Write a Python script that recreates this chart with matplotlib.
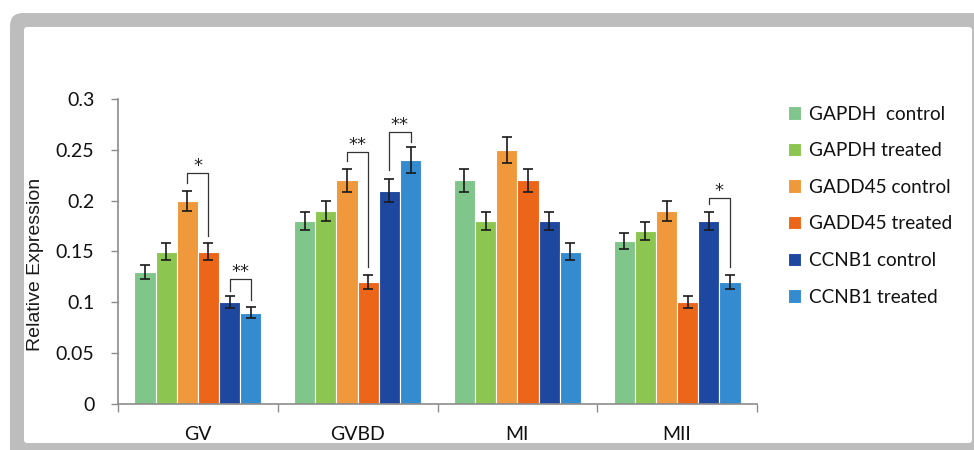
import numpy as np
import matplotlib
matplotlib.use("Agg")
import matplotlib.pyplot as plt
from matplotlib.patches import FancyBboxPatch

plt.rcParams['font.family'] = ['Lato', 'DejaVu Sans']

# data
stages = ["GV", "GVBD", "MI", "MII"]
series = ["GAPDH  control", "GAPDH treated", "GADD45 control",
          "GADD45 treated", "CCNB1 control", "CCNB1 treated"]
colors = ["#80c68a", "#8cc650", "#f0983c", "#eb6619", "#1e48a0", "#348bd0"]

gapdh_control = [0.13, 0.18, 0.22, 0.16]
gapdh_treated = [0.15, 0.19, 0.18, 0.17]
gadd45_control = [0.20, 0.22, 0.25, 0.19]
gadd45_treated = [0.15, 0.12, 0.22, 0.10]
ccnb1_control = [0.10, 0.21, 0.18, 0.18]
ccnb1_treated = [0.09, 0.24, 0.15, 0.12]

err_gapdh_control = [0.007, 0.009, 0.011, 0.008]
err_gapdh_treated = [0.008, 0.010, 0.009, 0.009]
err_gadd45_control = [0.010, 0.011, 0.013, 0.010]
err_gadd45_treated = [0.008, 0.0065, 0.011, 0.006]
err_ccnb1_control = [0.006, 0.011, 0.009, 0.009]
err_ccnb1_treated = [0.005, 0.0125, 0.008, 0.0065]

values = [gapdh_control, gapdh_treated, gadd45_control,
          gadd45_treated, ccnb1_control, ccnb1_treated]
errors = [err_gapdh_control, err_gapdh_treated, err_gadd45_control,
          err_gadd45_treated, err_ccnb1_control, err_ccnb1_treated]

# significance brackets: stage index, bar a, bar b, top, left foot, right foot, label
brackets = [
    (0, 2, 3, 0.227, 0.217, 0.165, "*"),
    (0, 4, 5, 0.123, 0.111, 0.102, "**"),
    (1, 2, 3, 0.248, 0.239, 0.135, "**"),
    (1, 4, 5, 0.268, 0.230, 0.258, "**"),
    (3, 4, 5, 0.203, 0.197, 0.135, "*"),
]

fig = plt.figure(figsize=(9.74, 4.5), dpi=100)

# grey rounded frame around the picture
outer = FancyBboxPatch((0.10, -0.3), 10.2, 4.67, boxstyle="round,pad=0,rounding_size=0.13",
                       transform=fig.dpi_scale_trans, facecolor="#bdbdbd", edgecolor="none", zorder=-2)
inner = FancyBboxPatch((0.24, 0.07), 9.48, 4.16, boxstyle="round,pad=0,rounding_size=0.03",
                       transform=fig.dpi_scale_trans, facecolor="white", edgecolor="none", zorder=-1)
fig.patches.extend([outer, inner])

ax = fig.add_axes([118 / 974, 1 - 404 / 450, (757 - 118) / 974, (404 - 99) / 450])
ax.set_facecolor("none")

centers = np.arange(len(stages)) + 0.5
width = 0.1325
for i in range(len(series)):
    x = centers + (i - 2.5) * width
    ax.bar(x, values[i], width, color=colors[i], edgecolor="white", linewidth=0.8,
           label=series[i], zorder=2)
    ax.errorbar(x, values[i], yerr=errors[i], fmt="none", ecolor="#1a1a1a",
                elinewidth=1.2, capsize=3.5, capthick=1.2, zorder=3)

for g, a, b, top, ya, yb, lab in brackets:
    xa = centers[g] + (a - 2.5) * width
    xb = centers[g] + (b - 2.5) * width
    ax.plot([xa, xa, xb, xb], [ya, top, top, yb], color="#333333", lw=0.9, zorder=4)
    ax.text((xa + xb) / 2, top - 0.002, lab, ha="center", va="bottom", fontsize=13,
            color="#222222", family="DejaVu Sans")

ax.set_xlim(0, 4)
ax.set_ylim(0, 0.3)
ax.set_yticks(np.arange(0, 0.31, 0.05))
ax.set_yticklabels(["0", "0.05", "0.1", "0.15", "0.2", "0.25", "0.3"])
ax.set_xticks(np.arange(0, 5))
ax.set_xticklabels([])
ax.set_xticks(centers, minor=True)
ax.set_xticklabels(stages, minor=True)
ax.tick_params(axis="x", which="major", length=6, color="#8c8c8c", width=1)
ax.tick_params(axis="x", which="minor", length=0, pad=16, labelsize=14, labelcolor="#111111")
ax.tick_params(axis="y", length=5, color="#8c8c8c", width=1, pad=12, labelsize=14, labelcolor="#111111")
for s in ["top", "right"]:
    ax.spines[s].set_visible(False)
for s in ["left", "bottom"]:
    ax.spines[s].set_color("#8c8c8c")
    ax.spines[s].set_linewidth(1.2)

fig.text(36 / 974, 1 - 264 / 450, "Relative Expression", rotation=90, ha="center", va="center",
         fontsize=14, color="#1a1a1a", family="Liberation Sans")

ax.legend(loc="upper left", bbox_to_anchor=(780 / 974, 1 - 98 / 450), bbox_transform=fig.transFigure,
          frameon=False, fontsize=13.7, handlelength=0.7, handleheight=0.7, handletextpad=0.45,
          labelspacing=1.03, borderaxespad=0, labelcolor="#111111")

fig.savefig("out.png", dpi=100)
